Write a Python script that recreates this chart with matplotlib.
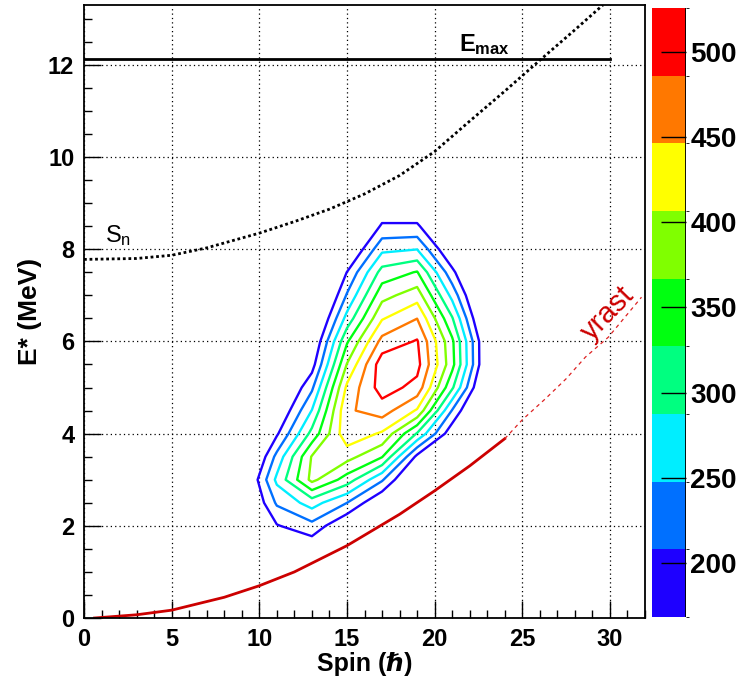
import numpy as np
import matplotlib.pyplot as plt
from matplotlib.colors import ListedColormap, BoundaryNorm
from matplotlib.cm import ScalarMappable
from matplotlib.ticker import MultipleLocator

plt.rcParams['font.family'] = ['Liberation Sans', 'DejaVu Sans']

# entry distribution (counts) on a spin x excitation-energy grid
spin_bins = [9, 11, 13, 15, 17, 19, 21, 23]
energy_bins = [1.0, 1.5, 2.0, 2.5, 3.0, 3.5, 4.0, 4.5, 5.0,
               5.5, 6.0, 6.5, 7.0, 7.5, 8.0, 8.5, 9.0, 9.5]
counts = [
    [40, 80, 100, 60, 45, 30, 20, 10],
    [60, 115, 135, 90, 65, 45, 30, 15],
    [80, 165, 195, 126, 90, 55, 40, 20],
    [88, 214, 265, 208, 125, 70, 55, 25],
    [95, 257, 378, 309, 213, 90, 70, 30],
    [60, 220, 370, 382, 330, 157, 95, 40],
    [40, 162, 300, 435, 401, 284, 138, 50],
    [30, 120, 249, 440, 466, 402, 205, 57],
    [25, 90, 200, 415, 505, 473, 294, 89],
    [20, 70, 150, 369, 510, 500, 340, 118],
    [15, 55, 120, 322, 460, 490, 335, 118],
    [10, 40, 85, 262, 403, 446, 291, 86],
    [10, 30, 50, 212, 353, 388, 235, 63],
    [5, 20, 40, 169, 303, 330, 180, 45],
    [5, 15, 30, 110, 238, 247, 120, 35],
    [5, 10, 20, 80, 174, 174, 100, 25],
    [0, 5, 15, 60, 130, 130, 75, 15],
    [0, 5, 10, 40, 95, 95, 55, 10],
]

z_min, z_max = 168, 526
palette = ['#1e00ff', '#0070ff', '#00eeff', '#00ff80', '#00ff10',
           '#80ff00', '#ffff00', '#ff7800', '#ff0000']
cbar_ticks = [200, 250, 300, 350, 400, 450, 500]

# neutron separation energy + rotational energy
sn_spin = [0, 3, 5, 7, 10, 12, 14, 16, 18, 20, 22, 24, 26, 28, 29.6]
sn_energy = [7.78, 7.8, 7.87, 8.03, 8.35, 8.6, 8.87, 9.2, 9.6, 10.12,
             10.78, 11.43, 12.1, 12.76, 13.3]

# yrast line, measured part and extrapolation
yrast_spin = [0.6, 3, 5, 8, 10, 12, 15, 18, 20, 22, 24]
yrast_energy = [0.0, 0.07, 0.17, 0.45, 0.7, 1.0, 1.57, 2.25, 2.76, 3.3, 3.89]
yrast_ext_spin = [24, 25, 26.3, 27.5, 28.6, 29.9, 31.8]
yrast_ext_energy = [3.89, 4.3, 4.75, 5.19, 5.66, 6.09, 6.96]

e_max = 12.12
e_max_spin = [0, 30]

fig = plt.figure(figsize=(7.48, 6.81), dpi=100)
ax = fig.add_axes([0.1123, 0.0925, 0.75, 0.9002])
cax = fig.add_axes([0.8717, 0.094, 0.0455, 0.894])

ax.set_xlim(0, 32)
ax.set_ylim(0, 13.3)
ax.xaxis.set_major_locator(MultipleLocator(5))
ax.xaxis.set_minor_locator(MultipleLocator(1))
ax.yaxis.set_major_locator(MultipleLocator(2))
ax.yaxis.set_minor_locator(MultipleLocator(0.5))
ax.grid(True, which='major', color='black', linestyle=(0, (1, 2.5)), linewidth=0.9)
ax.set_axisbelow(True)

ax.tick_params(which='both', direction='in', top=False, right=False,
               labelsize=17, width=1.0)
ax.tick_params(which='major', length=12, pad=7)
ax.tick_params(which='minor', length=6)
for lab in ax.get_xticklabels() + ax.get_yticklabels():
    lab.set_fontweight('bold')
for sp in ax.spines.values():
    sp.set_linewidth(1.3)

levels = np.linspace(z_min, z_max, len(palette) + 1)
X, Y = np.meshgrid(spin_bins, energy_bins)
ax.contour(X, Y, np.array(counts, dtype=float), levels=levels[:-1],
           colors=palette, linewidths=1.7)

ax.plot(e_max_spin, [e_max, e_max], color='black', linewidth=2.0)
ax.plot(sn_spin, sn_energy, color='black', linestyle=(0, (1, 1)), linewidth=2.0)
ax.plot(yrast_spin, yrast_energy, color='#cc0000', linewidth=2.0)
ax.plot(yrast_ext_spin, yrast_ext_energy, color='#dd2222', linestyle=(0, (3, 3)),
        linewidth=0.9)

ax.text(21.4, 12.3, r'$\mathregular{E_{max}}$', fontsize=17, fontweight='bold')
ax.text(1.2, 8.15, r'$\mathregular{S_n}$', fontsize=17)
ax.text(29.9, 6.6, 'yrast', color='#cc0000', fontsize=21, rotation=46,
        ha='center', va='center', rotation_mode='anchor')

ax.set_xlabel('Spin (\u210f)', fontsize=18, fontweight='bold', labelpad=1)
ax.set_ylabel('E* (MeV)', fontsize=19, fontweight='bold', labelpad=4)

# colour scale
cmap = ListedColormap(palette)
norm = BoundaryNorm(levels, cmap.N)
cb = fig.colorbar(ScalarMappable(norm=norm, cmap=cmap), cax=cax, ticks=cbar_ticks)
cb.outline.set_visible(False)
cax.axvline(1.0, color='black', linewidth=1.3)
cax.tick_params(direction='in', length=18, width=1.0, labelsize=20, pad=3)
for lab in cax.get_yticklabels():
    lab.set_fontweight('bold')

fig.savefig('out.png', dpi=100)
